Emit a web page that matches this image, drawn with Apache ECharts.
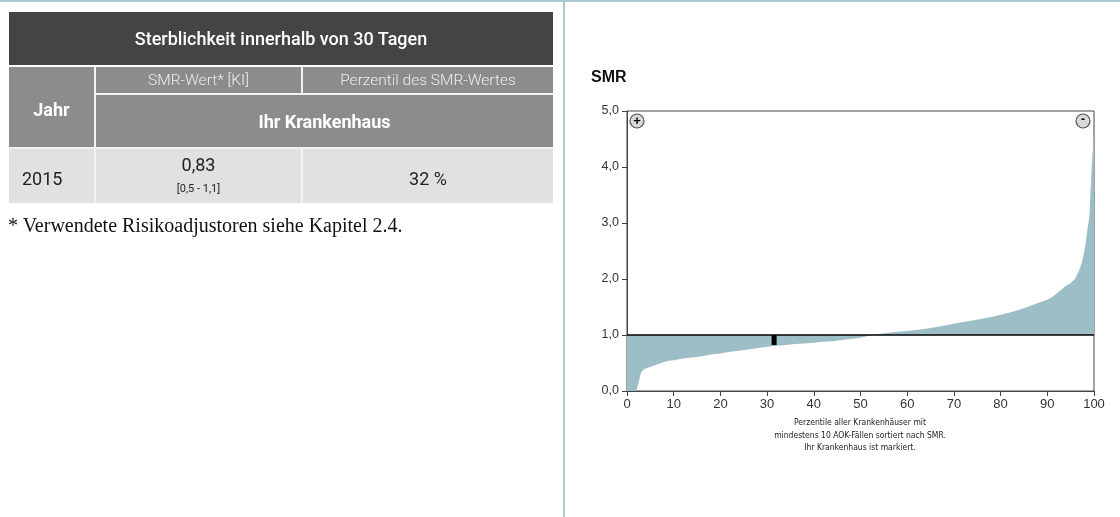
<!DOCTYPE html>
<html>
<head>
<meta charset="utf-8">
<script src="https://cdn.jsdelivr.net/npm/echarts@6/dist/echarts.min.js"></script>
<style>
  html, body { margin:0; padding:0; background:#fff; width:1120px; height:517px; overflow:hidden; }
  #topline { position:absolute; left:0; top:0; width:1120px; height:2px; background:#a9c9d2; }
  #divider { position:absolute; left:563px; top:0; width:2px; height:517px; background:#a9c9d2; }
  #chart { position:absolute; left:0; top:0; width:1120px; height:517px; }
  table { position:absolute; left:9px; top:12px; border-collapse:collapse; font-family:Roboto, 'Liberation Sans', sans-serif; z-index:2; }
  td { padding:0; text-align:center; vertical-align:middle; box-sizing:border-box; }
  .head { background:#444; color:#fff; font-size:18px; height:54px; font-weight:500; border-bottom:2px solid #fff; }
  .grey { background:#8c8c8c; color:#fff; }
  .sub { color:#ececec; font-size:15.5px; height:28px; font-weight:300; }
  .bold { font-weight:700; font-size:18px; }
  .data { background:#e1e1e1; color:#222; font-size:18px; height:55px; }
  .bl { border-left:2px solid #f2f2f2; }
  .bb { border-bottom:2px solid #f2f2f2; }
  .shift { position:relative; top:2px; }
  #foot { position:absolute; left:8px; top:214px; font-family:'Liberation Serif', 'DejaVu Serif', serif; font-size:20px; color:#111; z-index:2; }
</style>
</head>
<body>
<div id="chart"></div>
<div id="topline"></div>
<div id="divider"></div>
<table>
  <tr><td class="head" colspan="3" style="width:544px">Sterblichkeit innerhalb von 30 Tagen</td></tr>
  <tr>
    <td class="grey bold bb" rowspan="2" style="width:86px"><span class="shift">Jahr</span></td>
    <td class="grey sub bl bb" style="width:207px">SMR-Wert* [KI]</td>
    <td class="grey sub bl bb" style="width:251px">Perzentil des SMR-Wertes</td>
  </tr>
  <tr><td class="grey bold bl bb" colspan="2" style="height:54px">Ihr Krankenhaus</td></tr>
  <tr>
    <td class="data" style="text-align:left;padding-left:13px"><span class="shift">2015</span></td>
    <td class="data bl"><div style="line-height:20px;margin-top:-2px">0,83</div><div style="font-size:11px;line-height:14px;margin-top:7px">[0,5 - 1,1]</div></td>
    <td class="data bl"><span class="shift">32 %</span></td>
  </tr>
</table>
<div id="foot">* Verwendete Risikoadjustoren siehe Kapitel 2.4.</div>
<script>
// ---- data ----
const percentiles = [0, 2, 2.5, 3, 3.5, 4, 5, 6, 7, 8, 9, 10, 12, 14, 16, 18, 20, 22, 24, 26, 28, 30, 32, 34, 36, 38, 40, 42, 44, 46, 48, 50, 52, 54, 56, 58, 60, 62, 64, 66, 68, 70, 72, 74, 76, 78, 80, 82, 84, 86, 88, 90, 91, 92, 93, 94, 95, 96, 97, 97.5, 98, 98.5, 99, 99.5, 100];
const smrValues   = [0, 0, 0.15, 0.33, 0.38, 0.40, 0.43, 0.46, 0.49, 0.52, 0.54, 0.55, 0.58, 0.60, 0.62, 0.65, 0.67, 0.70, 0.72, 0.74, 0.77, 0.79, 0.81, 0.82, 0.84, 0.85, 0.86, 0.88, 0.89, 0.91, 0.93, 0.95, 0.99, 1.02, 1.04, 1.06, 1.07, 1.09, 1.11, 1.14, 1.17, 1.20, 1.23, 1.26, 1.29, 1.32, 1.36, 1.40, 1.45, 1.51, 1.57, 1.63, 1.68, 1.74, 1.81, 1.88, 1.93, 2.01, 2.19, 2.33, 2.52, 2.82, 3.11, 4.0, 4.6];
const referenceValue = 1.0;
const hospitalPercentile = 31.5;
const hospitalMarker = [0.82, 1.0];
const xTicks = [0, 10, 20, 30, 40, 50, 60, 70, 80, 90, 100];
const yTicks = [0, 1, 2, 3, 4, 5];
const captionLines = ['Perzentile aller Krankenhäuser mit', 'mindestens 10 AOK-Fällen sortiert nach SMR.', 'Ihr Krankenhaus ist markiert.'];

const curve = percentiles.map((p, i) => [p, smrValues[i]]);
const fmt = v => v.toFixed(1).replace('.', ',');

const chart = echarts.init(document.getElementById('chart'));
const axisCommon = {
  axisLine: { show: true, lineStyle: { color: '#444', width: 1 } },
  axisTick: { show: true, length: 5, lineStyle: { color: '#444' } },
  splitLine: { show: false },
  axisLabel: { color: '#333', fontSize: 12.5, fontFamily: 'Liberation Sans, Arial, sans-serif' }
};
chart.setOption({
  animation: false,
  title: { text: 'SMR', left: 586, top: 65, textStyle: { fontSize: 16, fontWeight: 'bold', color: '#111', fontFamily: 'Liberation Sans, Arial, sans-serif' } },
  grid: { left: 627, top: 111, width: 467, height: 280, show: true, borderColor: '#444', borderWidth: 1, backgroundColor: 'transparent' },
  xAxis: Object.assign({ type: 'value', min: xTicks[0], max: xTicks[xTicks.length - 1], interval: 10 }, axisCommon,
    { axisLabel: Object.assign({}, axisCommon.axisLabel, { margin: 7, fontSize: 13 }) }),
  yAxis: Object.assign({ type: 'value', min: yTicks[0], max: yTicks[yTicks.length - 1], interval: 1 }, axisCommon,
    { axisLabel: Object.assign({}, axisCommon.axisLabel, { margin: 8, formatter: fmt }) }),
  series: [
    {
      type: 'line', data: curve, symbol: 'none', silent: true,
      lineStyle: { width: 0 },
      areaStyle: { origin: referenceValue, color: '#9dbec6', opacity: 1 },
      markLine: { silent: true, symbol: 'none', label: { show: false },
        lineStyle: { color: '#000', width: 1.5, type: 'solid' },
        data: [{ yAxis: referenceValue }] },
      z: 2
    },
    {
      type: 'line', data: hospitalMarker.map(v => [hospitalPercentile, v]), symbol: 'none', silent: true,
      lineStyle: { color: '#000', width: 5 }, z: 5
    }
  ],
  graphic: [
    { type: 'circle', shape: { cx: 637, cy: 121, r: 7 }, style: { fill: '#d9d9d9', stroke: '#555', lineWidth: 1.2 }, z: 10 },
    { type: 'text', x: 637, y: 121, style: { text: '+', fill: '#000', font: 'bold 13px Liberation Sans', align: 'center', verticalAlign: 'middle' }, z: 11 },
    { type: 'circle', shape: { cx: 1083, cy: 121, r: 7 }, style: { fill: '#d9d9d9', stroke: '#555', lineWidth: 1.2 }, z: 10 },
    { type: 'text', x: 1083, y: 120, style: { text: '-', fill: '#000', font: 'bold 12px Liberation Sans', align: 'center', verticalAlign: 'middle' }, z: 11 },
    { type: 'text', x: 860, y: 417, style: { text: captionLines.join('\n'), fill: '#222', font: '8.5px "Liberation Sans Narrow", "DejaVu Sans Condensed", sans-serif', align: 'center', lineHeight: 12.5 } }
  ]
});
</script>
</body>
</html>
